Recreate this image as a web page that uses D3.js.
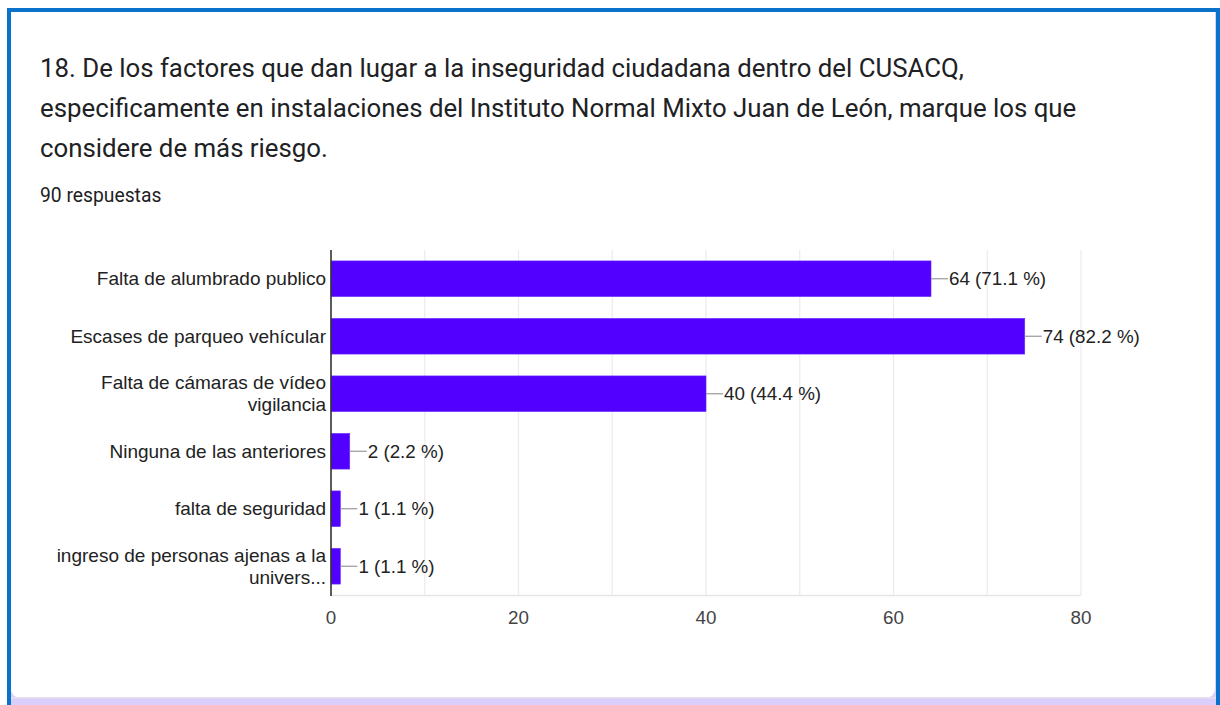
<!DOCTYPE html>
<html><head><meta charset="utf-8">
<script src="https://cdn.jsdelivr.net/npm/d3@7"></script>
<style>html,body{margin:0;padding:0;background:#fff;}svg{display:block;}</style>
</head><body>
<svg id="c" width="1220" height="705"></svg>
<script>
const titleLines = [
  "18. De los factores que dan lugar a la inseguridad ciudadana dentro del CUSACQ,",
  "especificamente en instalaciones del Instituto Normal Mixto Juan de León, marque los que",
  "considere de más riesgo."
];
const subtitle = "90 respuestas";
const categories = [
  ["Falta de alumbrado publico"],
  ["Escases de parqueo vehícular"],
  ["Falta de cámaras de vídeo", "vigilancia"],
  ["Ninguna de las anteriores"],
  ["falta de seguridad"],
  ["ingreso de personas ajenas a la", "univers..."]
];
const values = [64, 74, 40, 2, 1, 1];
const percents = ["71.1", "82.2", "44.4", "2.2", "1.1", "1.1"];
const xTicks = [0, 20, 40, 60, 80];
const gridTicks = [10, 20, 30, 40, 50, 60, 70, 80];

(function(){
const svg = d3.select("#c");
// frame
svg.append("rect").attr("x",0).attr("y",0).attr("width",1220).attr("height",705).attr("fill","#fff");
svg.append("rect").attr("x",11).attr("y",12).attr("width",1205).attr("height",693).attr("fill","#dacffa");
svg.append("rect").attr("x",11).attr("y",4).attr("width",1204).attr("height",694).attr("rx",9).attr("fill","#fff");
svg.append("rect").attr("x",11).attr("y",697).attr("width",1205).attr("height",1.5).attr("fill","#e4e0ec");
svg.append("rect").attr("x",7).attr("y",8).attr("width",4).attr("height",697).attr("fill","#0a72c8");
svg.append("rect").attr("x",7).attr("y",8).attr("width",1213).attr("height",4).attr("fill","#0a72c8");
svg.append("rect").attr("x",1216).attr("y",8).attr("width",4).attr("height",697).attr("fill","#0a72c8");

// title
svg.append("g").selectAll("text").data(titleLines).join("text")
  .attr("x",40).attr("y",(d,i)=>77+i*40)
  .attr("font-family","Roboto, 'Noto Sans', sans-serif").attr("font-size",25.8)
  .attr("fill","#202124").text(d=>d);
svg.append("text").attr("x",40).attr("y",202)
  .attr("font-family","Roboto, sans-serif").attr("font-size",19.3)
  .attr("fill","#202124").text(subtitle);

// chart
const pLeft = 331, pRight = 1081, pTop = 250, pBottom = 595;
const x = d3.scaleLinear().domain([0,80]).range([pLeft,pRight]);
const y = d3.scaleBand().domain(d3.range(categories.length)).range([pTop,pBottom])
  .paddingInner(0.38).paddingOuter(0.19);

const font = "'Liberation Sans', Arial, sans-serif";
const g = svg.append("g");
g.selectAll("line.grid").data(gridTicks).join("line").attr("class","grid")
  .attr("x1",d=>x(d)).attr("x2",d=>x(d)).attr("y1",pTop).attr("y2",pBottom)
  .attr("stroke","#ebebeb").attr("stroke-width",1.2);
g.append("line").attr("x1",pLeft).attr("x2",pRight).attr("y1",pBottom+0.5).attr("y2",pBottom+0.5)
  .attr("stroke","#e6e6e6").attr("stroke-width",1.5);

g.selectAll("rect.bar").data(values).join("rect").attr("class","bar")
  .attr("x",x(0)).attr("y",(d,i)=>y(i)).attr("width",d=>x(d)-x(0)).attr("height",y.bandwidth())
  .attr("fill","#5200ff").attr("stroke","#6a2bff").attr("stroke-width",0.6);

g.append("line").attr("x1",pLeft).attr("x2",pLeft).attr("y1",pTop).attr("y2",pBottom+1)
  .attr("stroke","#333").attr("stroke-width",1.6);

// connectors + value labels
values.forEach((v,i)=>{
  const cy = y(i)+y.bandwidth()/2;
  const x0 = x(v);
  g.append("line").attr("x1",x0).attr("x2",x0+17).attr("y1",cy).attr("y2",cy)
    .attr("stroke","#999").attr("stroke-width",1.2);
  g.append("text").attr("x",x0+18).attr("y",cy).attr("dy","0.35em")
    .attr("font-family",font).attr("font-size",18.8).attr("fill","#222")
    .text(`${v} (${percents[i]} %)`);
});

// category labels
categories.forEach((lines,i)=>{
  const cy = y(i)+y.bandwidth()/2;
  const lh = 22;
  const t = g.append("text").attr("text-anchor","end")
    .attr("font-family",font).attr("font-size",19).attr("fill","#222");
  lines.forEach((ln,j)=>{
    t.append("tspan").attr("x",pLeft-5)
      .attr("y",cy + (j-(lines.length-1)/2)*lh).attr("dy","0.35em").text(ln);
  });
});

// x tick labels
g.selectAll("text.tick").data(xTicks).join("text").attr("class","tick")
  .attr("x",d=>x(d)).attr("y",624).attr("text-anchor","middle")
  .attr("font-family",font).attr("font-size",18.8).attr("fill","#444").text(d=>d);
})();
</script>
</body></html>
